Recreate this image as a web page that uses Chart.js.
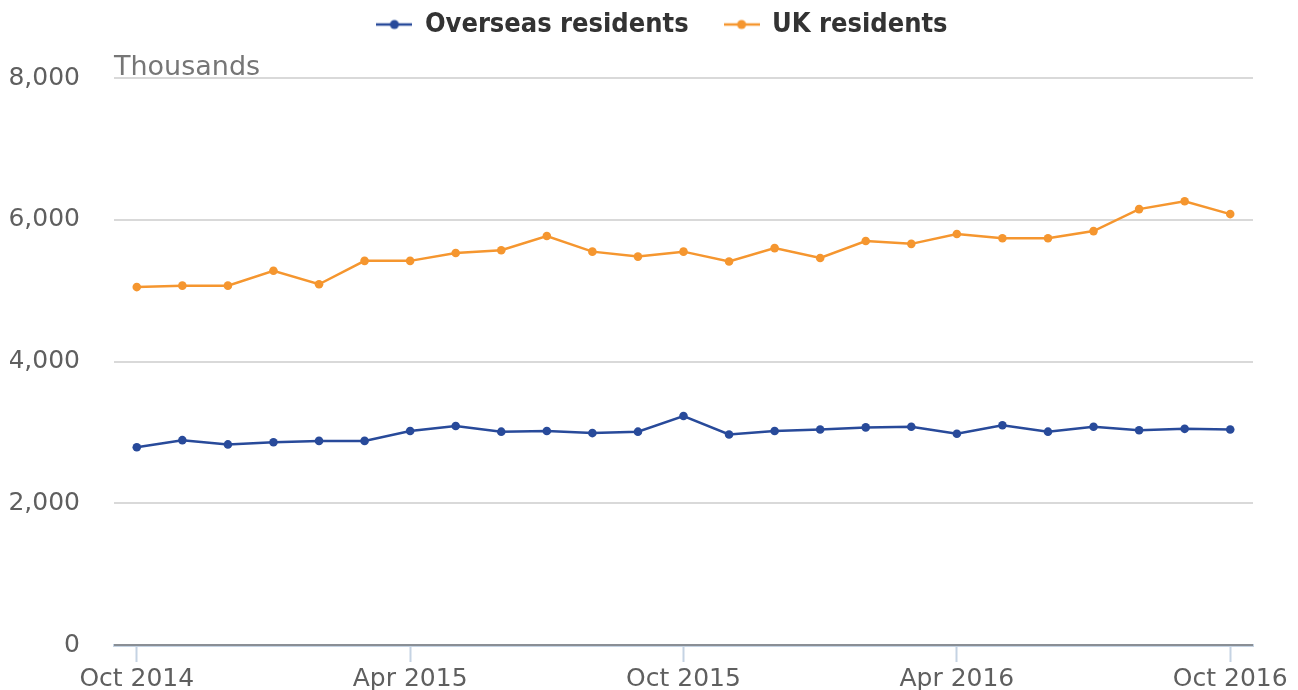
<!DOCTYPE html>
<html>
<head>
<meta charset="utf-8">
<script src="https://cdn.jsdelivr.net/npm/chart.js@4/dist/chart.umd.min.js"></script>
<style>
  html, body { margin: 0; padding: 0; background: #fff; }
  #wrap { width: 1298px; height: 690px; }
</style>
</head>
<body>
<div id="wrap"><canvas id="visitsChart"></canvas></div>
<script>
// Monthly visits, thousands
const months = [
  "Oct 2014", "Nov 2014", "Dec 2014", "Jan 2015", "Feb 2015", "Mar 2015",
  "Apr 2015", "May 2015", "Jun 2015", "Jul 2015", "Aug 2015", "Sep 2015",
  "Oct 2015", "Nov 2015", "Dec 2015", "Jan 2016", "Feb 2016", "Mar 2016",
  "Apr 2016", "May 2016", "Jun 2016", "Jul 2016", "Aug 2016", "Sep 2016",
  "Oct 2016"
];
const overseasResidents = [
  2790, 2890, 2830, 2860, 2880, 2880, 3020, 3090, 3010, 3020, 2990, 3010,
  3230, 2970, 3020, 3040, 3070, 3080, 2980, 3100, 3010, 3080, 3030, 3050, 3040
];
const ukResidents = [
  5050, 5070, 5070, 5280, 5090, 5420, 5420, 5530, 5570, 5770, 5550, 5480,
  5550, 5410, 5600, 5460, 5700, 5660, 5800, 5740, 5740, 5840, 6150, 6260, 6080
];
const shownMonths = ["Oct 2014", "Apr 2015", "Oct 2015", "Apr 2016", "Oct 2016"];
const yTicks = [0, 2000, 4000, 6000, 8000];

const BLUE = "#284a9a";
const ORANGE = "#f5962f";

// little line+dot swatch for the legend
function swatch(color) {
  const c = document.createElement("canvas");
  c.width = 36;
  c.height = 12;
  const g = c.getContext("2d");
  g.strokeStyle = color;
  g.lineWidth = 2.5;
  g.beginPath();
  g.moveTo(0, 6);
  g.lineTo(36, 6);
  g.stroke();
  g.fillStyle = color;
  g.beginPath();
  g.arc(18, 6, 4.5, 0, Math.PI * 2);
  g.fill();
  return c;
}

// make room under the legend and nudge it right a bit
const legendSpacer = {
  id: "legendSpacer",
  beforeInit(chart) {
    const fit = chart.legend.fit;
    chart.legend.fit = function () {
      fit.call(this);
      this.height += 30;
    };
  },
  afterLayout(chart) {
    chart.legend.left += 31;
    chart.legend.right += 31;
  }
};

const unitLabel = {
  id: "unitLabel",
  afterDraw(chart) {
    const { ctx, chartArea } = chart;
    ctx.save();
    ctx.font = "27px 'DejaVu Sans'";
    ctx.fillStyle = "#767676";
    ctx.textAlign = "left";
    ctx.textBaseline = "alphabetic";
    ctx.fillText("Thousands", chartArea.left, 75);
    ctx.restore();
  }
};

const ctx = document.getElementById("visitsChart").getContext("2d");

new Chart(ctx, {
  type: "line",
  data: {
    labels: months,
    datasets: [
      {
        label: "Overseas residents",
        data: overseasResidents,
        borderColor: BLUE,
        backgroundColor: BLUE,
        borderWidth: 2.5,
        pointRadius: 4.3,
        pointBorderWidth: 0,
        tension: 0,
        fill: false
      },
      {
        label: "UK residents",
        data: ukResidents,
        borderColor: ORANGE,
        backgroundColor: ORANGE,
        borderWidth: 2.5,
        pointRadius: 4.3,
        pointBorderWidth: 0,
        tension: 0,
        fill: false
      }
    ]
  },
  options: {
    responsive: true,
    maintainAspectRatio: false,
    animation: false,
    layout: { padding: { top: -25, left: 10, right: 45, bottom: 0 } },
    plugins: {
      tooltip: { enabled: false },
      legend: {
        position: "top",
        labels: {
          usePointStyle: true,
          pointStyleWidth: 34,
          padding: 36,
          color: "#333333",
          font: { family: "'DejaVu Sans Condensed', 'DejaVu Sans'", size: 27, weight: "bold" },
          generateLabels: (chart) =>
            chart.data.datasets.map((ds, i) => ({
              text: ds.label,
              pointStyle: swatch(ds.borderColor),
              fillStyle: ds.borderColor,
              strokeStyle: ds.borderColor,
              fontColor: "#333333",
              lineWidth: 0,
              hidden: false,
              datasetIndex: i
            }))
        }
      }
    },
    scales: {
      x: {
        offset: true,
        afterFit: (scale) => {
          scale.paddingLeft = 0;
          scale.paddingRight = 0;
          scale.paddingBottom = 0;
          scale.height = 45;
        },
        grid: {
          drawOnChartArea: false,
          tickLength: 17,
          tickColor: "#c5d3e3",
          tickWidth: 2
        },
        border: { color: "#c5d3e3", width: 3, z: -1 },
        ticks: {
          autoSkip: false,
          maxRotation: 0,
          padding: 2,
          color: "#5f5f5f",
          font: { family: "'DejaVu Sans'", size: 25 },
          callback: function (value) {
            const lab = this.getLabelForValue(value);
            return shownMonths.includes(lab) ? lab : null;
          }
        }
      },
      y: {
        min: yTicks[0],
        max: yTicks[yTicks.length - 1],
        afterBuildTicks: (scale) => {
          scale.ticks = yTicks.map(v => ({ value: v }));
        },
        afterFit: (scale) => {
          scale.width = 104;
          scale.paddingBottom = 0;
        },
        grid: {
          drawTicks: false,
          lineWidth: 2,
          color: (c) => (c.tick && c.tick.value === 0 ? "#8a8f95" : "#d9d9d9")
        },
        border: { display: false },
        ticks: {
          padding: 34,
          color: "#5f5f5f",
          font: { family: "'DejaVu Sans'", size: 25 },
          callback: (v) => Number(v).toLocaleString("en-US")
        }
      }
    }
  },
  plugins: [legendSpacer, unitLabel]
});
</script>
</body>
</html>
